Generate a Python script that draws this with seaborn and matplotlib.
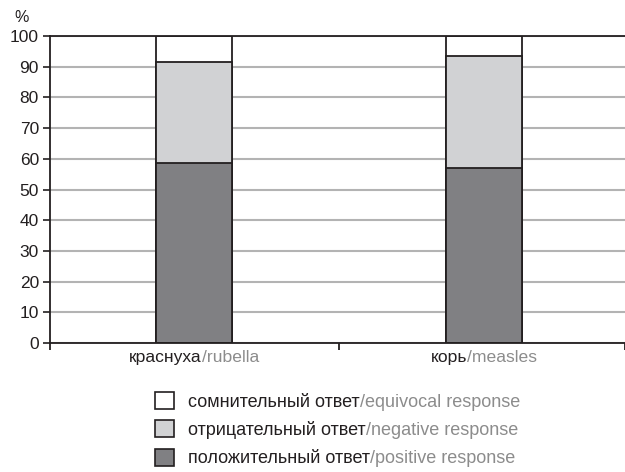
import matplotlib
matplotlib.use('Agg')
import matplotlib.pyplot as plt
import matplotlib.transforms as mtransforms
from matplotlib.patches import Patch
import numpy as np
import pandas as pd
import seaborn as sns

# данные
categories_ru = ['краснуха', 'корь']
categories_en = ['rubella', 'measles']
positive = [58.7, 57.0]
negative = [32.9, 36.4]
equivocal = [8.4, 6.6]

legend_ru = ['сомнительный ответ', 'отрицательный ответ', 'положительный ответ']
legend_en = ['equivocal response', 'negative response', 'positive response']

DARK = '#231f20'
GREY_TXT = '#8c8c8c'
C_POS = '#808083'
C_NEG = '#d1d2d4'
C_EQ = '#ffffff'


def main():
    df = pd.DataFrame({'cat': categories_ru, 'pos': positive,
                       'neg': negative, 'eq': equivocal})
    df['pos_neg'] = df['pos'] + df['neg']
    df['total'] = df['pos_neg'] + df['eq']

    sns.set_theme(style='white')
    plt.rcParams['font.family'] = ['Liberation Sans', 'DejaVu Sans']

    fig = plt.figure(figsize=(6.25, 4.72), dpi=100)
    ax = fig.add_axes([0.08, 0.2733, 0.92, 0.6504])

    # стек: рисуем от суммы к нижнему сегменту
    for col, color in [('total', C_EQ), ('pos_neg', C_NEG), ('pos', C_POS)]:
        sns.barplot(data=df, x='cat', y=col, color=color, width=0.26,
                    edgecolor=DARK, linewidth=1.3, saturation=1, ax=ax)

    ax.set_ylim(0, 100)
    ax.set_xlim(-0.497, 1.486)
    ax.set_yticks(np.arange(0, 101, 10))
    ax.yaxis.grid(True, color='#b3b3b3', lw=1.5)
    ax.set_axisbelow(True)
    ax.set_xlabel('')
    ax.set_ylabel('')

    for s in ['left', 'bottom', 'top']:
        ax.spines[s].set_visible(True)
        ax.spines[s].set_color(DARK)
        ax.spines[s].set_linewidth(1.3)
    ax.spines['right'].set_visible(False)

    ax.tick_params(axis='y', direction='out', length=5, width=1.2, color=DARK,
                   labelsize=12.5, labelcolor=DARK, left=True, pad=3)
    ax.set_xticks([0, 1])
    ax.set_xticklabels([])
    ax.tick_params(axis='x', which='major', length=0)
    ax.set_xticks([-0.497, 0.5, 1.486], minor=True)
    ax.tick_params(axis='x', which='minor', direction='out', length=5,
                   width=1.3, color=DARK, bottom=True)

    fig.text(14 / 625, 1 - 18 / 472, '%', fontsize=11.5, color=DARK,
             ha='left', va='center')

    # подписи категорий (русский чёрным, английский серым)
    pairs = []
    xform = ax.get_xaxis_transform()
    for i, (ru, en) in enumerate(zip(categories_ru, categories_en)):
        t1 = ax.text(i, -0.046, ru, transform=xform, ha='left', va='center',
                     color=DARK, fontsize=12.6)
        t2 = ax.annotate('/' + en, xy=(1, 0), xycoords=t1, ha='left',
                         va='bottom', color=GREY_TXT, fontsize=12.6)
        pairs.append((t1, t2, xform))

    # легенда
    handles = [Patch(facecolor=c, edgecolor=DARK, linewidth=1.2)
               for c in [C_EQ, C_NEG, C_POS]]
    leg = fig.legend(handles, legend_ru, loc='upper left',
                     bbox_to_anchor=(146 / 625, 1 - 383 / 472),
                     frameon=False, fontsize=13, handlelength=1.05,
                     handleheight=1.05, labelspacing=0.55, handletextpad=0.8,
                     borderpad=0, labelcolor=DARK)
    for txt, en in zip(leg.get_texts(), legend_en):
        ax.annotate('/' + en, xy=(1, 0), xycoords=txt, ha='left',
                    va='bottom', color=GREY_TXT, fontsize=13,
                    annotation_clip=False)

    fig.canvas.draw()
    for t1, t2, xf in pairs:
        w = t1.get_window_extent().width + t2.get_window_extent().width
        t1.set_transform(xf + mtransforms.ScaledTranslation(
            -w / 2 / fig.dpi, 0, fig.dpi_scale_trans))

    fig.savefig('out.png', dpi=100)


if __name__ == "__main__":
    main()
